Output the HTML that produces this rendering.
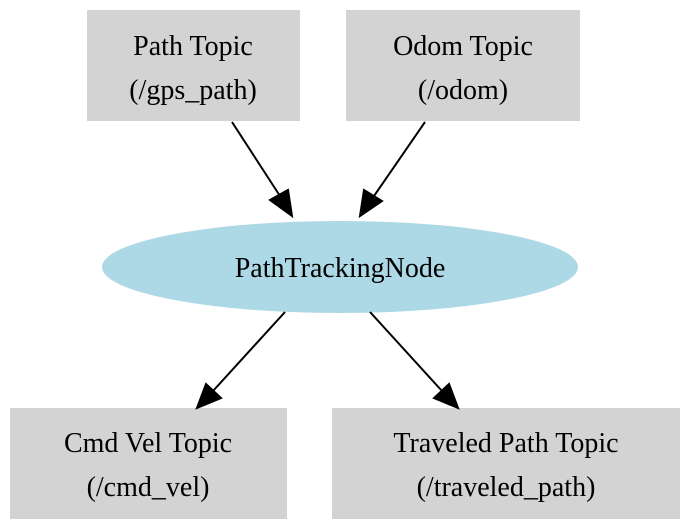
<!DOCTYPE html>
<html><head><style>body{margin:0;background:#fff}svg{display:block}</style></head><body>
<svg width="692" height="530" viewBox="0 0 692 530" xmlns="http://www.w3.org/2000/svg" font-family="'Liberation Serif',serif" font-size="28" text-anchor="middle">
<rect x="87" y="10" width="213" height="111" fill="#d3d3d3"/>
<rect x="346" y="10" width="234" height="111" fill="#d3d3d3"/>
<rect x="10" y="408" width="277" height="111" fill="#d3d3d3"/>
<rect x="332" y="408" width="348" height="111" fill="#d3d3d3"/>
<ellipse cx="340" cy="267" rx="238" ry="46" fill="#add8e6"/>
<text x="193" y="55">Path Topic</text><text x="193" y="99">(/gps_path)</text>
<text x="463" y="55">Odom Topic</text><text x="463" y="99">(/odom)</text>
<text x="340" y="277">PathTrackingNode</text>
<text x="148" y="452">Cmd Vel Topic</text><text x="148" y="496">(/cmd_vel)</text>
<text x="506" y="452">Traveled Path Topic</text><text x="506" y="496">(/traveled_path)</text>
<g stroke="#000" stroke-width="2" fill="#000">
<line x1="232" y1="122" x2="280" y2="196"/><polygon points="292,216 270,200 288,190"/>
<line x1="425" y1="122" x2="374" y2="196"/><polygon points="360,216 364,190 382,201"/>
<line x1="285" y1="312" x2="213" y2="391"/><polygon points="197,408 206,384 221,398"/>
<line x1="370" y1="312" x2="442" y2="391"/><polygon points="458,408 434,398 449,384"/>
</g>
</svg>
</body></html>
